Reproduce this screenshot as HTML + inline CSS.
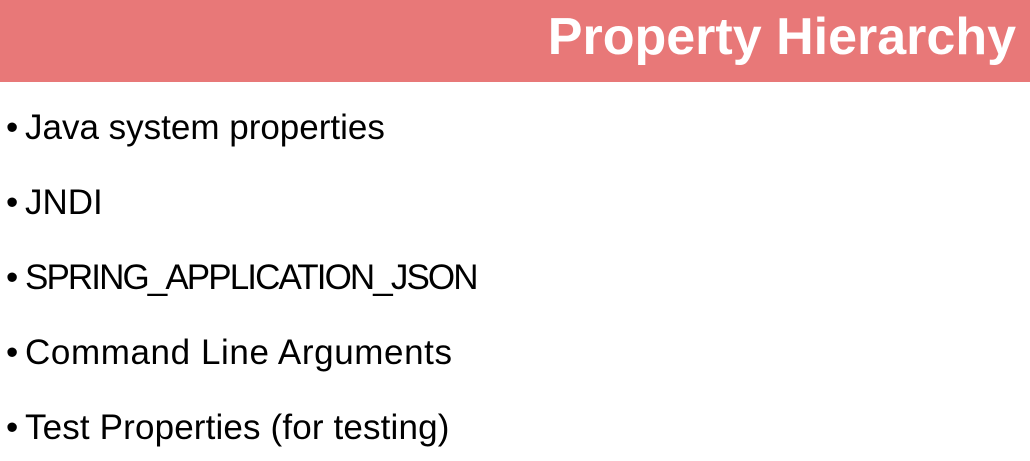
<!DOCTYPE html>
<html><head><style>
html,body{margin:0;padding:0;width:1030px;height:461px;overflow:hidden;background:#fff;font-family:"Liberation Sans",sans-serif;}
.hdr{position:absolute;left:0;top:0;width:1030px;height:82px;background:#E87878;}
.title{position:absolute;right:14px;top:7px;color:#fff;font-weight:bold;font-size:52px;line-height:60px;white-space:nowrap;}
.b{position:absolute;left:6px;font-size:35px;line-height:40px;color:#000;white-space:nowrap;}
.b span{display:inline-block;width:19px;letter-spacing:0;}
</style></head><body>
<div class="hdr"><div class="title">Property Hierarchy</div></div>
<div class="b" style="top:108px"><span>•</span>Java system properties</div>
<div class="b" style="top:183px"><span>•</span>JNDI</div>
<div class="b" style="top:258px;letter-spacing:-1.9px"><span>•</span>SPRING_APPLICATION_JSON</div>
<div class="b" style="top:333px;letter-spacing:0.6px"><span>•</span>Command Line Arguments</div>
<div class="b" style="top:408px;letter-spacing:0.15px"><span>•</span>Test Properties (for testing)</div>
</body></html>
